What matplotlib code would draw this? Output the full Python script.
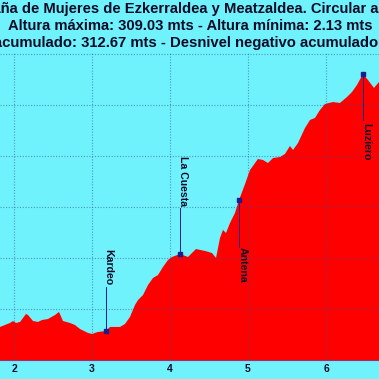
import numpy as np
import matplotlib
matplotlib.use("Agg")
import matplotlib.pyplot as plt

# ---- data -------------------------------------------------------------
km = [1.80, 1.821, 1.949, 1.987, 2.026, 2.077, 2.154, 2.179, 2.244, 2.308, 2.359,
      2.436, 2.526, 2.577, 2.628, 2.718, 2.782, 2.846, 2.949, 3.000, 3.077,
      3.179, 3.231, 3.359, 3.423, 3.487, 3.551, 3.590, 3.654, 3.718, 3.782,
      3.846, 3.910, 3.974, 4.026, 4.128, 4.231, 4.333, 4.449, 4.538, 4.590,
      4.641, 4.679, 4.718, 4.769, 4.833, 4.885, 4.962, 5.026, 5.128, 5.192,
      5.256, 5.321, 5.410, 5.474, 5.538, 5.577, 5.641, 5.731, 5.795, 5.859,
      5.923, 5.987, 6.090, 6.179, 6.269, 6.333, 6.397, 6.474, 6.538, 6.615,
      6.679, 6.70]
alt = [31.0, 32.4, 36.3, 38.2, 36.3, 37.3, 45.1, 44.1, 38.2, 37.3, 39.2,
       40.2, 44.1, 47.1, 38.2, 36.3, 34.3, 30.4, 26.5, 25.5, 27.5,
       28.4, 32.4, 32.4, 35.3, 42.2, 53.9, 58.8, 63.7, 73.5, 80.4,
       83.3, 91.2, 98.0, 101.0, 103.9, 101.0, 108.8, 106.9, 104.9, 100.0,
       119.6, 127.5, 124.5, 134.3, 144.1, 156.9, 172.5, 186.3, 197.1, 196.1,
       193.1, 198.0, 199.0, 202.0, 209.8, 205.9, 212.7, 227.5, 235.3, 237.3,
       245.1, 251.0, 252.9, 252.0, 257.8, 262.7, 269.6, 280.4, 274.5, 266.7,
       272.5, 275.0]

waypoints = ["Kardeo", "La Cuesta", "Antena", "Luziero"]
waypoint_km = [3.179, 4.128, 4.885, 6.474]

x_ticks = [2, 3, 4, 5, 6]

title_lines = [
    "Marcha de Montaña de Mujeres de Ezkerraldea y Meatzaldea. Circular a Luziero",
    "Altura máxima: 309.03 mts - Altura mínima: 2.13 mts",
    "Desnivel positivo acumulado: 312.67 mts - Desnivel negativo acumulado: 312.67 mts",
]

# ---- layout / style ---------------------------------------------------
W = H = 379
DPI = 100
CYAN = "#6ff2fc"
RED = "#ff0000"
TXT = "#0c0c28"
MARK = "#1c1c8c"
FONT = "Liberation Sans"

# label placement: (text centre offset in km, text centre alt, line end alt)
label_layout = {
    "Kardeo": (0.026, 90.7, 71.6),
    "La Cuesta": (0.039, 175.0, 149.0),
    "Antena": (0.051, 93.0, 110.8),
    "Luziero": (0.039, 214.0, 235.0),
}

fig = plt.figure(figsize=(W / DPI, H / DPI), dpi=DPI, facecolor=CYAN)
ax = fig.add_axes([0, (H - 360) / H, 1, (360 - 52) / H])
ax.set_facecolor(CYAN)

x0 = 2 + (0 - 14) / 78
x1 = 2 + (W - 14) / 78
ax.set_xlim(x0, x1)
ymax = (360 - 52) / 1.02
ax.set_ylim(0, ymax)

ax.fill_between(km, alt, 0, color=RED, lw=0, zorder=1)

ax.set_xticks(x_ticks)
ax.set_yticks(np.arange(0, ymax, 50))
ax.grid(True, linestyle=(0, (1, 1.5)), color="#2f4f9a", alpha=0.55, lw=0.8, zorder=2)
ax.set_axisbelow(False)
ax.tick_params(axis="x", length=0, pad=3, labelsize=7.5, labelcolor=TXT)
ax.tick_params(axis="y", length=0, labelleft=False)
for lab in ax.get_xticklabels():
    lab.set_fontweight("bold")
    lab.set_family(FONT)
for s in ax.spines.values():
    s.set_visible(False)
ax.spines["bottom"].set_visible(True)
ax.spines["bottom"].set_color("#9a3070")
ax.spines["bottom"].set_linewidth(0.8)

# waypoints
for name, wk in zip(waypoints, waypoint_km):
    wy = float(np.interp(wk, km, alt))
    dx, ty, ly = label_layout[name]
    ax.plot([wk, wk], [wy, ly], color=MARK, lw=0.7, zorder=3)
    ax.plot([wk], [wy], marker="s", ms=2.5, color=MARK, zorder=4)
    ax.text(wk + dx, ty, name, rotation=270, ha="center", va="center",
            fontsize=7.6, fontweight="bold", color=TXT, family=FONT, zorder=5)

# title lines
renderer = fig.canvas.get_renderer()


def width(s, size):
    t = fig.text(0, 0, s, fontsize=size, fontweight="bold", family=FONT)
    w = t.get_window_extent(renderer).width
    t.remove()
    return w


ys = [9, 26, 43]

# line 2: fully visible, from x=7 to x=374
fs2 = 10 * 367 / width(title_lines[1], 10)
fig.text(190.5 / W, 1 - ys[1] / H, title_lines[1], fontsize=fs2, fontweight="bold",
         family=FONT, color=TXT, ha="center", va="center")

# line 1: visible part "ña ... Circular a" spans x=0..378
s1 = title_lines[0]
a1 = s1.index("ña")
b1 = s1.index("Circular a") + len("Circular a")
fs1 = 10 * 378 / width(s1[a1:b1], 10)
xa = 378 - width(s1[:b1], fs1)
fig.text(xa / W, 1 - ys[0] / H, s1, fontsize=fs1, fontweight="bold",
         family=FONT, color=TXT, ha="left", va="center")

# line 3: visible part "cumulado ... negativo acumulado" spans x=0..378
s3 = title_lines[2]
a3 = s3.index("cumulado")
b3 = s3.index("negativo acumulado") + len("negativo acumulado")
fs3 = 10 * 378 / width(s3[a3:b3], 10)
xc = 378 - width(s3[:b3], fs3)
fig.text(xc / W, 1 - ys[2] / H, s3, fontsize=fs3, fontweight="bold",
         family=FONT, color=TXT, ha="left", va="center")

fig.savefig("out.png", dpi=DPI, facecolor=CYAN)
